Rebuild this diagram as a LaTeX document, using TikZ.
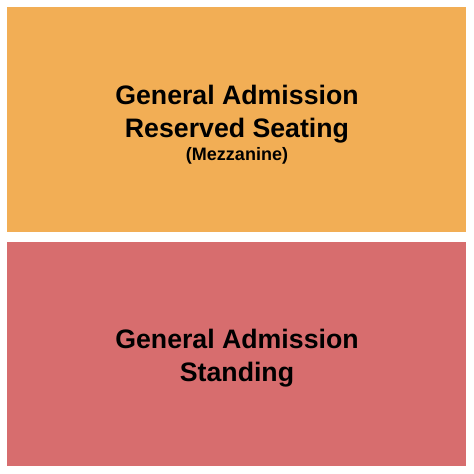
\documentclass[tikz,border=0pt]{standalone}
\usepackage{fontspec}
\setmainfont{Liberation Sans}
\usepackage{xcolor}
\usetikzlibrary{positioning}

\definecolor{mezz}{HTML}{F2AE55}
\definecolor{floor}{HTML}{D76D6E}

\begin{document}
\begin{tikzpicture}[x=1pt,y=-1pt]
\tikzstyle{every node}+=[inner sep=0pt]
\tikzstyle{big}=[font=\bfseries\fontsize{26.7}{30}\selectfont,anchor=base]
\tikzstyle{small}=[font=\bfseries\fontsize{18}{20}\selectfont,anchor=base]
\useasboundingbox (0,0) rectangle (474,474);
\fill [white] (0,0) rectangle (474,474);
\fill [mezz] (7,7) rectangle (466,232);
\fill [floor] (7,242) rectangle (466,466);
\node [big] (ga1) at (237,104) {General Admission};
\node [big] (rs) at (237,137) {Reserved Seating};
\node [small] (mz) at (237,160) {(Mezzanine)};
\node [big] (ga2) at (237,348) {General Admission};
\node [big] (st) at (237,381) {Standing};
\end{tikzpicture}
\end{document}
